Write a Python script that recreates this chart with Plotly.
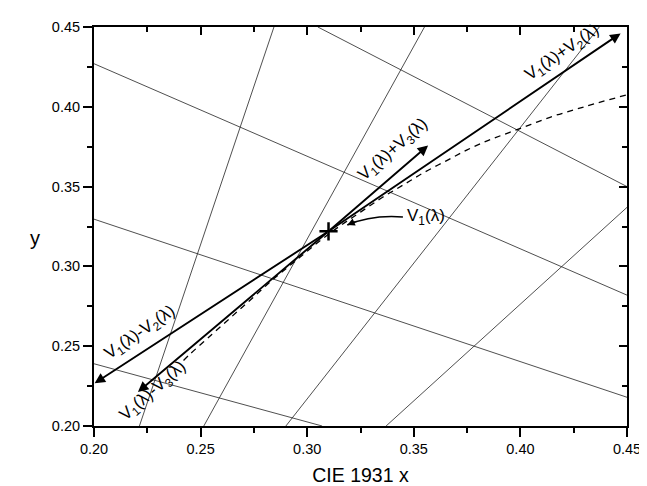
import plotly.graph_objects as go

# ---- data ----
# thin reference lines: start/end points
thin_x0 = [0.200, 0.305, 0.200, 0.200, 0.2213, 0.2515, 0.290, 0.337]
thin_y0 = [0.427, 0.450, 0.3296, 0.239, 0.200, 0.200, 0.200, 0.200]
thin_x1 = [0.450, 0.450, 0.450, 0.307, 0.2844, 0.355, 0.437, 0.450]
thin_y1 = [0.282, 0.350, 0.218, 0.200, 0.450, 0.450, 0.450, 0.337]

# dashed locus
locus_x = [0.242, 0.245, 0.255, 0.265, 0.275, 0.285, 0.295, 0.305, 0.315, 0.325, 0.335,
           0.345, 0.355, 0.365, 0.375, 0.385, 0.395, 0.405, 0.415, 0.425, 0.435, 0.450]
locus_y = [0.241, 0.245, 0.257, 0.269, 0.281, 0.293, 0.304, 0.315, 0.325, 0.334, 0.343,
           0.351, 0.359, 0.366, 0.373, 0.379, 0.384, 0.389, 0.394, 0.398, 0.402, 0.4075]

# centre point V1
center_x = [0.310]
center_y = [0.322]

# arrow tips (from centre)
tip_x = [0.447, 0.2003, 0.3567, 0.2206]
tip_y = [0.446, 0.2268, 0.3758, 0.2213]

# labels
label_text = ["V<sub>1</sub>(λ)+V<sub>2</sub>(λ)", "V<sub>1</sub>(λ)-V<sub>2</sub>(λ)",
              "V<sub>1</sub>(λ)+V<sub>3</sub>(λ)", "V<sub>1</sub>(λ)-V<sub>3</sub>(λ)",
              "V<sub>1</sub>(λ)"]
label_x = [0.420, 0.222, 0.3407, 0.2277, 0.3557]
label_y = [0.4336, 0.258, 0.3728, 0.2213, 0.3308]
label_angle = [-34.4, -34.4, -41, -41, 0]

# curved pointer for V1(λ): start, control, end
curve_x = [0.3449, 0.330, 0.3188]
curve_y = [0.3310, 0.3325, 0.3259]

x_ticks = [0.20, 0.25, 0.30, 0.35, 0.40, 0.45]
y_ticks = [0.20, 0.25, 0.30, 0.35, 0.40, 0.45]

FONT = "Liberation Sans, Arial, Helvetica, sans-serif"

fig = go.Figure()

for x0, y0, x1, y1 in zip(thin_x0, thin_y0, thin_x1, thin_y1):
    fig.add_trace(go.Scatter(x=[x0, x1], y=[y0, y1], mode="lines",
                             line=dict(color="#222", width=0.8),
                             hoverinfo="skip", showlegend=False))

fig.add_trace(go.Scatter(x=locus_x, y=locus_y, mode="lines",
                         line=dict(color="black", width=1.3, dash="6px,5px", shape="spline"),
                         showlegend=False))

# thick line segments centre -> tips
for tx, ty in zip(tip_x, tip_y):
    fig.add_annotation(x=tx, y=ty, ax=center_x[0], ay=center_y[0],
                       xref="x", yref="y", axref="x", ayref="y",
                       text="", showarrow=True, arrowhead=2, arrowsize=1.1,
                       arrowwidth=1.9, arrowcolor="black")

fig.add_trace(go.Scatter(x=center_x, y=center_y, mode="markers",
                         marker=dict(symbol="cross-thin", size=13,
                                     line=dict(color="black", width=2.5)),
                         showlegend=False))

# curved pointer
fig.add_shape(type="path",
              path=f"M {curve_x[0]},{curve_y[0]} Q {curve_x[1]},{curve_y[1]} {curve_x[2]},{curve_y[2]}",
              xref="x", yref="y", line=dict(color="black", width=1.5))
fig.add_annotation(x=curve_x[2], y=curve_y[2], ax=9, ay=-4, axref="pixel", ayref="pixel",
                   xref="x", yref="y", text="", showarrow=True, arrowhead=2,
                   arrowsize=1.0, arrowwidth=1.5, arrowcolor="black")

for t, lx, ly, ang in zip(label_text, label_x, label_y, label_angle):
    fig.add_annotation(x=lx, y=ly, xref="x", yref="y", text=t, showarrow=False,
                       textangle=ang, font=dict(family=FONT, size=17, color="black"))

# dummy trace for mirrored inner ticks
fig.add_trace(go.Scatter(x=[0.2], y=[0.2], xaxis="x2", yaxis="y2", mode="markers",
                         marker=dict(opacity=0), hoverinfo="skip", showlegend=False))

axis_common = dict(range=[0.2, 0.45], showgrid=False, zeroline=False)

fig.update_layout(
    width=647, height=486,
    margin=dict(l=86, r=28, t=11, b=64),
    plot_bgcolor="white", paper_bgcolor="white",
    font=dict(family=FONT, color="black"),
    xaxis=dict(**axis_common, tickvals=x_ticks, tickformat=".2f",
               ticks="outside", ticklen=9, tickwidth=2, tickcolor="black",
               showline=True, linewidth=2, linecolor="black", mirror=True,
               tickfont=dict(size=14.5), title=dict(text="CIE 1931 x", font=dict(size=19.5), standoff=12),
               minor=dict(dtick=0.025, tick0=0.2, ticks="outside", ticklen=5, tickwidth=1.5, tickcolor="black")),
    yaxis=dict(**axis_common, tickvals=y_ticks, tickformat=".2f",
               ticks="outside", ticklen=9, tickwidth=2, tickcolor="black",
               showline=True, linewidth=2, linecolor="black", mirror=True,
               tickfont=dict(size=14.5),
               minor=dict(dtick=0.025, tick0=0.2, ticks="outside", ticklen=5, tickwidth=1.5, tickcolor="black")),
    xaxis2=dict(**axis_common, overlaying="x", side="top", anchor="y2", tickvals=x_ticks,
                ticks="inside", ticklen=8, tickwidth=2, tickcolor="black", showticklabels=False,
                minor=dict(dtick=0.025, tick0=0.2, ticks="inside", ticklen=5, tickwidth=1.5, tickcolor="black")),
    yaxis2=dict(**axis_common, overlaying="y", side="right", anchor="x2", tickvals=y_ticks,
                ticks="inside", ticklen=8, tickwidth=2, tickcolor="black", showticklabels=False,
                minor=dict(dtick=0.025, tick0=0.2, ticks="inside", ticklen=5, tickwidth=1.5, tickcolor="black")),
)

fig.add_annotation(x=-0.124, y=0.47, xref="paper", yref="paper", text="y", showarrow=False,
                   font=dict(family=FONT, size=20, color="black"))

fig.write_html("out.html")
